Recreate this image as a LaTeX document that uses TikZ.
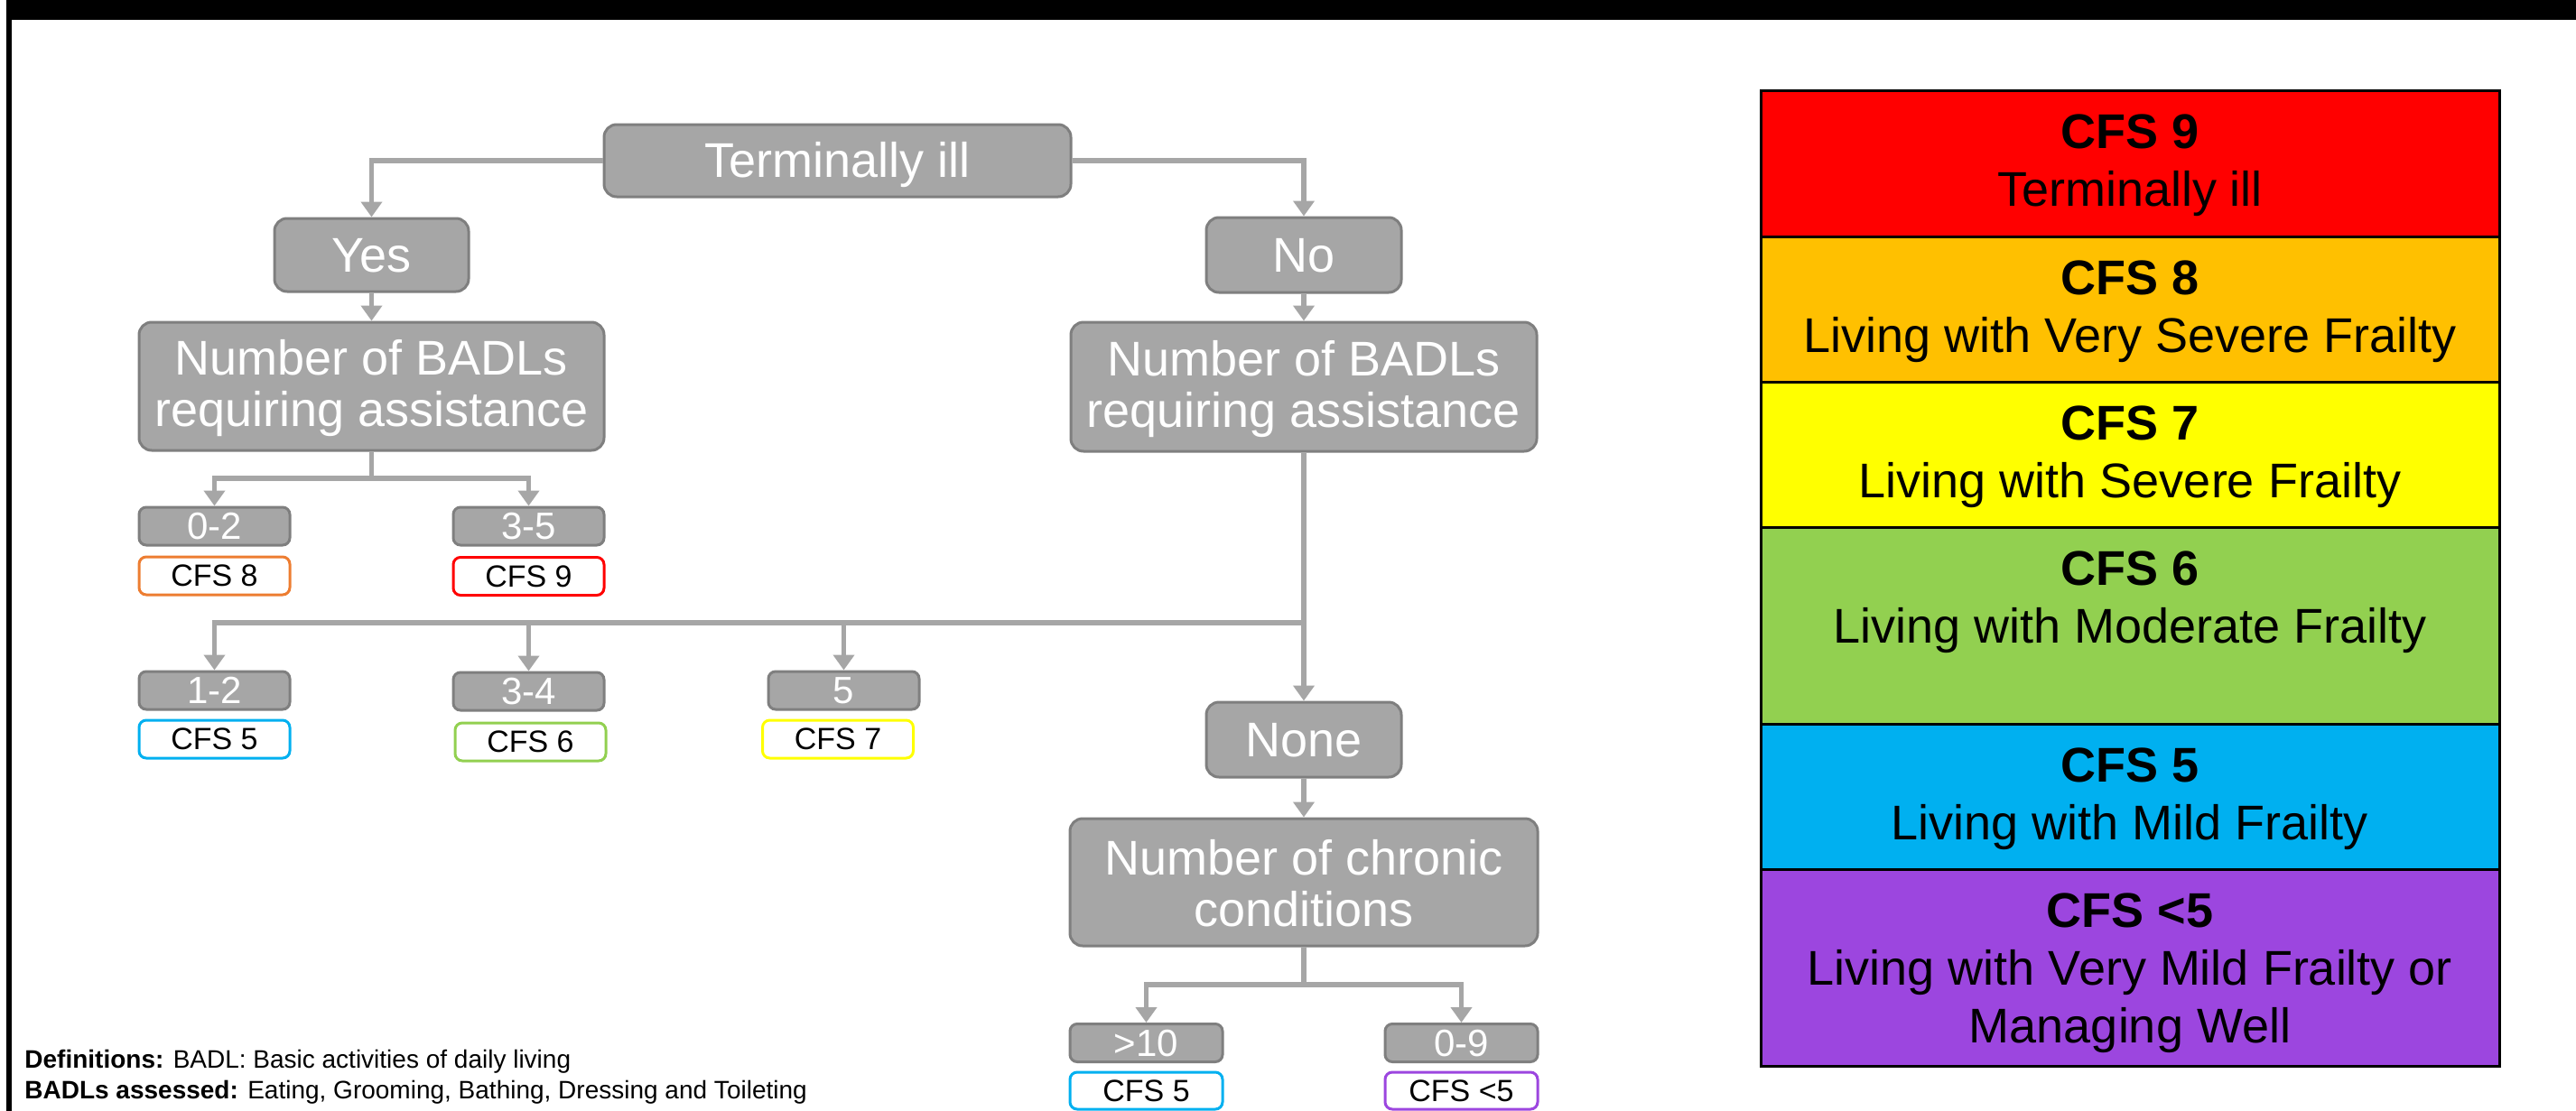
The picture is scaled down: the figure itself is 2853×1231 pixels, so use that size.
\documentclass[tikz,border=0pt]{standalone}
\usepackage{fontspec}
\setmainfont{Liberation Sans}
\usetikzlibrary{arrows.meta}
\definecolor{boxgray}{HTML}{A6A6A6}
\definecolor{edgegray}{HTML}{7F7F7F}
\definecolor{linegray}{HTML}{A6A6A6}
\definecolor{cfsred}{HTML}{FF0000}
\definecolor{cfsorange}{HTML}{FFC000}
\definecolor{cfsorangeedge}{HTML}{ED7D31}
\definecolor{cfsyellow}{HTML}{FFFF00}
\definecolor{cfsgreen}{HTML}{92D050}
\definecolor{cfsblue}{HTML}{00B0F0}
\definecolor{cfspurple}{HTML}{9C46DF}
\begin{document}
\begin{tikzpicture}[x=0.5pt,y=-0.5pt,
  gbox/.style={draw=edgegray, line width=1.5pt, fill=boxgray, rounded corners=7pt,
    text=white, inner sep=0pt, align=center, font=\fontsize{27}{28.5}\selectfont},
  gsingle/.style={gbox, text height=24.4pt, text depth=5.7pt},
  sbox/.style={draw=edgegray, line width=1.5pt, fill=boxgray, rounded corners=4pt,
    text=white, inner sep=0pt, font=\fontsize{21}{24}\selectfont,
    minimum width=83.5pt, minimum height=21pt, text height=17.5pt, text depth=2.9pt},
  rbox/.style={fill=white, line width=1.5pt, rounded corners=4pt, text=black,
    inner sep=0pt, font=\fontsize{17}{20}\selectfont,
    minimum width=83.5pt, minimum height=21pt, text height=15.4pt, text depth=3.6pt},
  conn/.style={draw=linegray, line width=2.8pt},
  arr/.style={conn, -{Triangle[width=11.5pt,length=8.5pt]}},
  rowtext/.style={anchor=north, inner sep=0pt, align=center, text=black,
    font=\fontsize{27}{32}\selectfont},
  deftext/.style={anchor=base west, inner sep=0pt, text=black, font=\fontsize{14}{17}\selectfont}
]
\useasboundingbox (0,0) rectangle (2853,1231);
\fill[white] (0,0) rectangle (2853,1231);
% frame
\fill[black] (7,0) rectangle (2853,22);
\fill[black] (7,0) rectangle (13,1231);

% big gray boxes
\node[gsingle, minimum width=258.5pt, minimum height=40pt] (term) at (927.5,178) {Terminally ill};
\node[gsingle, minimum width=107.5pt, minimum height=40.5pt] (yes) at (411.5,282.5) {Yes};
\node[gsingle, minimum width=108pt, minimum height=41.5pt] (no) at (1444,282.5) {No};
\node[gbox, minimum width=257.5pt, minimum height=71pt] (badlL) at (411.5,428) {\rule{0pt}{22pt}Number of BADLs\\requiring assistance};
\node[gbox, minimum width=258pt, minimum height=71.5pt] (badlR) at (1444,428.5) {\rule{0pt}{22pt}Number of BADLs\\requiring assistance};
\node[gsingle, minimum width=108pt, minimum height=41.5pt] (none) at (1444,819.5) {None};
\node[gbox, minimum width=259pt, minimum height=70.5pt] (chron) at (1444,977.5) {\rule{0pt}{21pt}Number of chronic\\conditions};

% small gray boxes
\node[sbox] (r02) at (237.5,583) {0-2};
\node[sbox] (r35) at (585.5,583) {3-5};
\node[sbox] (r12) at (237.5,765) {1-2};
\node[sbox] (r34) at (585.5,766) {3-4};
\node[sbox] (r5) at (934.5,765) {5};
\node[sbox, minimum width=84.5pt] (rgt) at (1269.5,1155.5) {>10};
\node[sbox, minimum width=84.5pt] (r09) at (1618.5,1155.5) {0-9};

% result boxes
\node[rbox, draw=cfsorangeedge] (c8) at (237.5,638) {CFS 8};
\node[rbox, draw=cfsred] (c9) at (585.5,638.5) {CFS 9};
\node[rbox, draw=cfsblue] (c5a) at (237.5,819) {CFS 5};
\node[rbox, draw=cfsgreen] (c6) at (587.5,822) {CFS 6};
\node[rbox, draw=cfsyellow] (c7) at (928,819) {CFS 7};
\node[rbox, draw=cfsblue, minimum width=84.5pt, minimum height=20.5pt] (c5b) at (1269.5,1208.5) {CFS 5};
\node[rbox, draw=cfspurple, minimum width=84.5pt, minimum height=20.5pt] (clt5) at (1618.5,1208.5) {CFS <5};

% connectors
\draw[arr] (term.west) -| (yes.north);
\draw[arr] (term.east) -| (no.north);
\draw[arr] (yes.south) -- (badlL.north);
\draw[arr] (no.south) -- (badlR.north);
\coordinate (j1) at (411.5,530);
\draw[conn] (badlL.south) -- (j1);
\draw[arr] (j1) -| (r02.north);
\draw[arr] (j1) -| (r35.north);
\coordinate (j2) at (1444,690);
\draw[arr] (badlR.south) -- (none.north);
\draw[arr] (j2) -| (r12.north);
\draw[arr] (j2) -| (r34.north);
\draw[arr] (j2) -| (r5.north);
\draw[arr] (none.south) -- (chron.north);
\coordinate (j3) at (1444,1091);
\draw[conn] (chron.south) -- (j3);
\draw[arr] (j3) -| (rgt.north);
\draw[arr] (j3) -| (r09.north);

% legend panel
\path[fill=cfsred] (1950,100) rectangle (2768,262);
\path[fill=cfsorange] (1950,262) rectangle (2768,423);
\path[fill=cfsyellow] (1950,423) rectangle (2768,584);
\path[fill=cfsgreen] (1950,584) rectangle (2768,802);
\path[fill=cfsblue] (1950,802) rectangle (2768,963);
\path[fill=cfspurple] (1950,963) rectangle (2768,1181);
\draw[black, line width=1.5pt] (1950,100) rectangle (2768,1181);
\foreach \yy in {262,423,584,802,963} {\draw[black, line width=1.5pt] (1950,\yy) -- (2768,\yy);}
\node[rowtext] (t9) at (2359,126) {\textbf{CFS 9}\\Terminally ill};
\node[rowtext] (t8) at (2359,288) {\textbf{CFS 8}\\Living with Very Severe Frailty};
\node[rowtext] (t7) at (2359,449) {\textbf{CFS 7}\\Living with Severe Frailty};
\node[rowtext] (t6) at (2359,610) {\textbf{CFS 6}\\Living with Moderate Frailty};
\node[rowtext] (t5) at (2359,828) {\textbf{CFS 5}\\Living with Mild Frailty};
\node[rowtext] (t4) at (2359,989) {\textbf{CFS <5}\\Living with Very Mild Frailty or\\Managing Well};

% definitions
\node[deftext] (def1) at (27,1183) {\textbf{Definitions:} BADL: Basic activities of daily living};
\node[deftext] (def2) at (27,1217) {\textbf{BADLs assessed:} Eating, Grooming, Bathing, Dressing and Toileting};
\end{tikzpicture}
\end{document}
